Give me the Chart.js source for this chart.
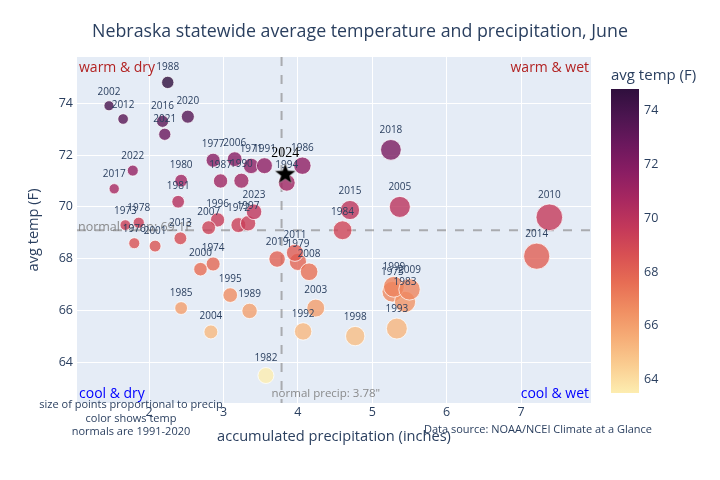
<!DOCTYPE html>
<html lang="en">
<head>
<meta charset="UTF-8">
<title>Nebraska statewide average temperature and precipitation, June</title>
<script src="https://cdn.jsdelivr.net/npm/chart.js"></script>
<style>
  html, body { margin: 0; padding: 0; background: #fff; }
  .wrap { width: 720px; height: 480px; }
</style>
</head>
<body>
<div class="wrap"><canvas id="myChart" width="720" height="480"></canvas></div>
<script>
// June values, 1971-2023
const years = [1971, 1972, 1973, 1974, 1975, 1976, 1977, 1978, 1979, 1980,
  1981, 1982, 1983, 1984, 1985, 1986, 1987, 1988, 1989, 1990,
  1991, 1992, 1993, 1994, 1995, 1996, 1997, 1998, 1999, 2000,
  2001, 2002, 2003, 2004, 2005, 2006, 2007, 2008, 2009, 2010,
  2011, 2012, 2013, 2014, 2015, 2016, 2017, 2018, 2019, 2020,
  2021, 2022, 2023];
const precip = [3.37, 3.20, 1.68, 2.86, 5.27, 1.80, 2.86, 1.86, 4.00, 2.43,
  2.39, 3.57, 5.44, 4.60, 2.43, 4.06, 2.96, 2.25, 3.35, 3.24,
  3.55, 4.07, 5.33, 3.85, 3.09, 2.92, 3.33, 4.77, 5.29, 2.69,
  2.08, 1.46, 4.24, 2.83, 5.37, 3.15, 2.80, 4.15, 5.50, 7.38,
  3.96, 1.65, 2.42, 7.21, 4.70, 2.18, 1.53, 5.25, 3.72, 2.52,
  2.21, 1.78, 3.41];
const temps = [71.58, 69.30, 69.30, 67.80, 66.73, 68.60, 71.80, 69.39, 67.88, 71.01,
  70.20, 63.50, 66.34, 69.10, 66.10, 71.59, 71.00, 74.80, 65.99, 71.01,
  71.59, 65.20, 65.31, 70.93, 66.60, 69.50, 69.37, 65.02, 66.92, 67.60,
  68.49, 73.90, 66.10, 65.18, 70.00, 71.84, 69.20, 67.50, 66.82, 69.60,
  68.23, 73.39, 68.79, 68.10, 69.88, 73.30, 70.70, 72.20, 67.99, 73.48,
  72.80, 71.40, 69.81];

// current year, shown as a star
const latestYear = '2024';
const latestPrecip = 3.83;
const latestTemp = 71.3;

// 1991-2020 normals
const normalTemp = 69.1;
const normalPrecip = 3.78;

const xTicks = [2, 3, 4, 5, 6, 7];
const yTicks = [64, 66, 68, 70, 72, 74];
const cbTicks = [64, 66, 68, 70, 72, 74];

const FONT = '"Open Sans", verdana, arial, sans-serif';
const INK = '#2a3f5f';

// cmocean "matter" scale, light (cool) to dark (warm)
const matter = [
  [253, 237, 176], [250, 205, 145], [246, 173, 119], [240, 142, 98],
  [231, 109, 84], [216, 80, 83], [195, 56, 90], [168, 40, 96],
  [138, 29, 99], [107, 24, 93], [76, 21, 80], [47, 15, 61]
];
const cmin = Math.min(...temps);
const cmax = Math.max(...temps);

function tempColor(t, alpha) {
  let f = (t - cmin) / (cmax - cmin);
  f = Math.max(0, Math.min(1, f)) * (matter.length - 1);
  const i = Math.min(Math.floor(f), matter.length - 2);
  const k = f - i;
  const a = matter[i], b = matter[i + 1];
  const c = a.map((v, j) => Math.round(v + (b[j] - v) * k));
  return `rgba(${c[0]},${c[1]},${c[2]},${alpha})`;
}

// marker radius grows with precipitation
function sizeOf(p) {
  return 1.4 * p + 3;
}

// filled five point star for the current year
function makeStar(R) {
  const c = document.createElement('canvas');
  c.width = c.height = Math.ceil(R * 2 + 4);
  const g = c.getContext('2d');
  const cx = c.width / 2, cy = c.height / 2 + R * 0.1;
  const r = R * 0.42;
  g.beginPath();
  for (let i = 0; i < 10; i++) {
    const rad = i % 2 ? r : R;
    const ang = -Math.PI / 2 + i * Math.PI / 5;
    g.lineTo(cx + rad * Math.cos(ang), cy + rad * Math.sin(ang));
  }
  g.closePath();
  g.fillStyle = '#000';
  g.fill();
  g.strokeStyle = 'rgba(255,255,255,0.6)';
  g.lineWidth = 0.6;
  g.stroke();
  return c;
}
const starImg = makeStar(11);

function txt(c, s, x, y, size, color, align, fam) {
  c.font = size + 'px ' + (fam || FONT);
  c.fillStyle = color;
  c.textAlign = align || 'center';
  c.textBaseline = 'middle';
  c.fillText(s, x, y);
}

const decor = {
  id: 'decor',
  beforeDraw(chart) {
    const { ctx: c, chartArea: a } = chart;
    c.save();
    c.fillStyle = '#E5ECF6';
    c.fillRect(a.left, a.top, a.right - a.left, a.bottom - a.top);
    c.restore();
  },
  beforeDatasetsDraw(chart) {
    const { ctx: c, chartArea: a, scales } = chart;
    const yN = scales.y.getPixelForValue(normalTemp);
    const xN = scales.x.getPixelForValue(normalPrecip);
    c.save();
    c.strokeStyle = 'rgba(128,128,128,0.6)';
    c.lineWidth = 2;
    c.setLineDash([9, 9]);
    c.beginPath();
    c.moveTo(a.left, yN); c.lineTo(a.right, yN);
    c.moveTo(xN, a.top); c.lineTo(xN, a.bottom);
    c.stroke();
    c.setLineDash([]);
    txt(c, 'normal temp: ' + normalTemp + 'F', a.left + 1, yN - 3, 12.5, 'rgba(128,128,128,0.9)', 'left');
    txt(c, 'normal precip: ' + normalPrecip + '"', xN - 10, a.bottom - 9, 11.5, 'rgba(128,128,128,0.9)', 'left');
    c.restore();
  },
  afterDatasetDraw(chart, args) {
    const c = chart.ctx;
    const meta = chart.getDatasetMeta(args.index);
    c.save();
    if (args.index === 0) {
      meta.data.forEach((pt, i) => {
        txt(c, String(years[i]), pt.x, pt.y - sizeOf(precip[i]) - 9, 10, INK);
      });
    } else {
      const pt = meta.data[0];
      txt(c, latestYear, pt.x, pt.y - 20, 14, '#000', 'center', '"Liberation Serif", "DejaVu Serif", serif');
    }
    c.restore();
  },
  afterDraw(chart) {
    const { ctx: c, chartArea: a } = chart;
    c.save();
    // quadrant notes
    txt(c, 'warm & dry', a.left + 2, a.top + 11, 14, 'firebrick', 'left');
    txt(c, 'warm & wet', a.right - 2, a.top + 11, 14, 'firebrick', 'right');
    txt(c, 'cool & dry', a.left + 2, a.bottom - 9, 14, 'blue', 'left');
    txt(c, 'cool & wet', a.right - 2, a.bottom - 9, 14, 'blue', 'right');

    // titles
    txt(c, 'Nebraska statewide average temperature and precipitation, June', 360, 32, 17.8, INK);
    txt(c, 'accumulated precipitation (inches)', (a.left + a.right) / 2, 437, 14.6, INK);
    c.save();
    c.translate(34, (a.top + a.bottom) / 2);
    c.rotate(-Math.PI / 2);
    txt(c, 'avg temp (F)', 0, 0, 14.6, INK);
    c.restore();

    // footnotes
    txt(c, 'size of points proportional to precip', 131, 405, 11, INK);
    txt(c, 'color shows temp', 131, 419, 11, INK);
    txt(c, 'normals are 1991-2020', 131, 432, 11, INK);
    txt(c, 'Data source: NOAA/NCEI Climate at a Glance', 538, 430, 11, INK);

    // colorbar
    const cbL = 611, cbR = 639, cbT = 89, cbB = 393;
    const grad = c.createLinearGradient(0, cbB, 0, cbT);
    matter.forEach((m, i) => grad.addColorStop(i / (matter.length - 1), `rgb(${m[0]},${m[1]},${m[2]})`));
    c.fillStyle = grad;
    c.fillRect(cbL, cbT, cbR - cbL, cbB - cbT);
    cbTicks.forEach(v => {
      const y = cbB - (v - cmin) / (cmax - cmin) * (cbB - cbT);
      txt(c, String(v), cbR + 5, y, 12.5, INK, 'left');
    });
    txt(c, 'avg temp (F)', cbL, 76, 15, INK, 'left');
    c.restore();
  }
};

const ctx = document.getElementById('myChart').getContext('2d');
const myChart = new Chart(ctx, {
  type: 'scatter',
  data: {
    datasets: [{
      label: 'June',
      data: years.map((y, i) => ({ x: precip[i], y: temps[i] })),
      order: 1,
      pointRadius: c => sizeOf(precip[c.dataIndex]),
      pointHoverRadius: c => sizeOf(precip[c.dataIndex]) + 1,
      backgroundColor: c => tempColor(temps[c.dataIndex], 0.8),
      borderColor: 'rgba(255,255,255,0.75)',
      borderWidth: 1
    }, {
      label: latestYear,
      data: [{ x: latestPrecip, y: latestTemp }],
      order: 0,
      pointStyle: starImg,
      pointRadius: 11,
      backgroundColor: '#000',
      borderColor: '#000'
    }]
  },
  options: {
    responsive: false,
    animation: false,
    layout: { padding: { left: 0, top: 57, right: 129, bottom: 0 } },
    plugins: {
      legend: { display: false },
      tooltip: {
        callbacks: {
          label: c => (c.datasetIndex === 0 ? years[c.dataIndex] : latestYear) +
            ': ' + c.parsed.x + '", ' + c.parsed.y + 'F'
        }
      }
    },
    scales: {
      x: {
        type: 'linear',
        min: 1.03,
        max: 7.94,
        afterFit: s => { s.height = 77; },
        afterBuildTicks: s => { s.ticks = xTicks.map(v => ({ value: v })); },
        grid: { color: '#ffffff', lineWidth: 1, drawTicks: false },
        border: { display: false },
        ticks: { padding: 2, color: INK, font: { family: FONT, size: 12.5 } }
      },
      y: {
        type: 'linear',
        min: 62.44,
        max: 75.78,
        afterFit: s => { s.width = 77; },
        afterBuildTicks: s => { s.ticks = yTicks.map(v => ({ value: v })); },
        grid: { color: '#ffffff', lineWidth: 1, drawTicks: false },
        border: { display: false },
        ticks: { padding: 4, color: INK, font: { family: FONT, size: 12.5 } }
      }
    }
  },
  plugins: [decor]
});
</script>
</body>
</html>
